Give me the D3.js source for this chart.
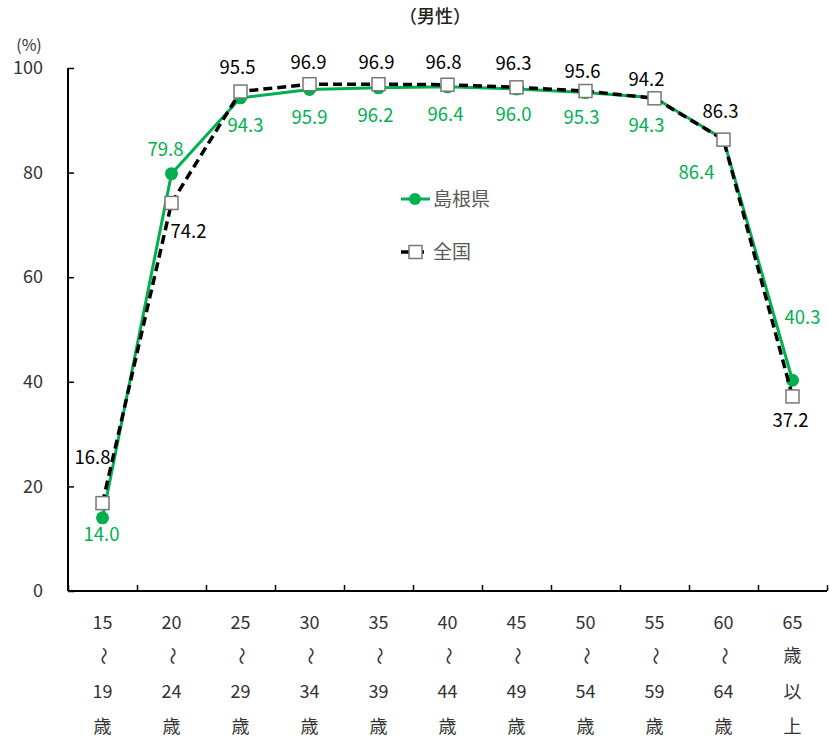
<!DOCTYPE html>
<html>
<head>
<meta charset="utf-8">
<script src="https://cdn.jsdelivr.net/npm/d3@7"></script>
<style>
    body { margin: 0; background: #fff; }
    text { font-family: "Noto Sans CJK JP", "Noto Sans", sans-serif; }
</style>
</head>
<body>
<svg></svg>
<script>
// data
const categories = ["15〜19歳", "20〜24歳", "25〜29歳", "30〜34歳", "35〜39歳", "40〜44歳",
    "45〜49歳", "50〜54歳", "55〜59歳", "60〜64歳", "65歳以上"];
const categoryLines = [
    ["15", "〜", "19", "歳"], ["20", "〜", "24", "歳"], ["25", "〜", "29", "歳"],
    ["30", "〜", "34", "歳"], ["35", "〜", "39", "歳"], ["40", "〜", "44", "歳"],
    ["45", "〜", "49", "歳"], ["50", "〜", "54", "歳"], ["55", "〜", "59", "歳"],
    ["60", "〜", "64", "歳"], ["65", "歳", "以", "上"]
];
const shimane = [14.0, 79.8, 94.3, 95.9, 96.2, 96.4, 96.0, 95.3, 94.3, 86.4, 40.3];
const national = [16.8, 74.2, 95.5, 96.9, 96.9, 96.8, 96.3, 95.6, 94.2, 86.3, 37.2];
const yTicks = [0, 20, 40, 60, 80, 100];

// label nudges (dx, dy from the point)
const shimaneLabelPos = [[-1, 17], [-6, -24], [5, 28], [0, 28], [-3, 28], [-2, 28],
    [-3, 26], [-4, 25], [-8, 28], [-27, 33], [10, -63]];
const nationalLabelPos = [[-10, -46], [17, 29], [-3, -24], [-1, -22], [-2, -22], [-4, -22],
    [-3, -24], [-3, -19], [-8, -19], [-3, -28], [-2, 24]];

const svgWidth = 830;
const svgHeight = 740;
const plotLeft = 68, plotRight = 827, plotTop = 68, plotBottom = 591;
const green = "#00B050";

const svg = d3.select("svg").attr("width", svgWidth).attr("height", svgHeight);

const x = d3.scaleBand().domain(categories).range([plotLeft, plotRight]);
const xEdges = d3.scaleLinear().domain([0, categories.length]).range([plotLeft, plotRight]);
const y = d3.scaleLinear().domain([0, 100]).range([plotBottom, plotTop]);
const cx = (i) => x(categories[i]) + x.bandwidth() / 2;

// title
svg.append("text")
    .attr("x", 435).attr("y", 17)
    .attr("dy", "0.35em")
    .attr("text-anchor", "middle")
    .attr("font-size", 18)
    .attr("font-weight", 500)
    .attr("fill", "#222")
    .text("（男性）");

svg.append("text")
    .attr("x", 29).attr("y", 45)
    .attr("dy", "0.35em")
    .attr("text-anchor", "middle")
    .attr("font-size", 16)
    .attr("font-family", "'Noto Sans', sans-serif")
    .attr("fill", "#333")
    .text("(%)");

// axes
const yAxis = d3.axisLeft(y).tickValues(yTicks).tickSize(-6).tickPadding(25);
const gy = svg.append("g").attr("transform", `translate(${plotLeft},0)`).call(yAxis);
gy.select(".domain").attr("stroke", "#000").attr("stroke-width", 2).attr("d", `M0,${plotTop}V${plotBottom}`);
gy.selectAll(".tick line").attr("stroke", "#000").attr("stroke-width", 1.5);
gy.selectAll(".tick text")
    .attr("font-size", 18)
    .attr("fill", "#333")
    .attr("font-family", "'Noto Sans', sans-serif");

const xAxis = d3.axisBottom(xEdges).tickValues(d3.range(0, categories.length + 1)).tickSize(-6).tickFormat("");
const gx = svg.append("g").attr("transform", `translate(0,${plotBottom})`).call(xAxis);
gx.select(".domain").attr("stroke", "#000").attr("stroke-width", 2).attr("d", `M${plotLeft},0H${plotRight}`);
gx.selectAll(".tick line").attr("stroke", "#000").attr("stroke-width", 1.5);

// x labels, one char group per line
const lineY = [623, 656, 692, 727];
categoryLines.forEach((lines, i) => {
    lines.forEach((s, j) => {
        const t = svg.append("text")
            .attr("x", cx(i)).attr("y", lineY[j])
            .attr("dy", "0.35em")
            .attr("text-anchor", "middle")
            .attr("font-size", 18)
            .attr("fill", "#333")
            .text(s);
        if (s === "〜") {
            t.attr("transform", `rotate(90,${cx(i)},${lineY[j]})`).attr("dy", "0.3em");
        }
    });
});

// lines
const line = d3.line().x((d, i) => cx(i)).y(d => y(d));

svg.append("path")
    .datum(shimane)
    .attr("d", line)
    .attr("fill", "none")
    .attr("stroke", green)
    .attr("stroke-width", 3);

svg.selectAll(".dot")
    .data(shimane)
    .enter()
    .append("circle")
    .attr("class", "dot")
    .attr("cx", (d, i) => cx(i))
    .attr("cy", d => y(d))
    .attr("r", 6.5)
    .attr("fill", green);

svg.append("path")
    .datum(national)
    .attr("d", line)
    .attr("fill", "none")
    .attr("stroke", "#000")
    .attr("stroke-width", 3.5)
    .attr("stroke-dasharray", "9,5");

svg.selectAll(".sq")
    .data(national)
    .enter()
    .append("rect")
    .attr("class", "sq")
    .attr("x", (d, i) => cx(i) - 6.5)
    .attr("y", d => y(d) - 6.5)
    .attr("width", 13)
    .attr("height", 13)
    .attr("fill", "#fff")
    .attr("stroke", "#777")
    .attr("stroke-width", 1.5);

// data labels
svg.selectAll(".lab-s")
    .data(shimane)
    .enter()
    .append("text")
    .attr("class", "lab-s")
    .attr("x", (d, i) => cx(i) + shimaneLabelPos[i][0])
    .attr("y", (d, i) => y(d) + shimaneLabelPos[i][1])
    .attr("dy", "0.35em")
    .attr("text-anchor", "middle")
    .attr("font-size", 18.5)
    .attr("fill", green)
    .text(d => d.toFixed(1));

svg.selectAll(".lab-n")
    .data(national)
    .enter()
    .append("text")
    .attr("class", "lab-n")
    .attr("x", (d, i) => cx(i) + nationalLabelPos[i][0])
    .attr("y", (d, i) => y(d) + nationalLabelPos[i][1])
    .attr("dy", "0.35em")
    .attr("text-anchor", "middle")
    .attr("font-size", 18.5)
    .attr("fill", "#000")
    .text(d => d.toFixed(1));

// legend
const lg = svg.append("g");
lg.append("line").attr("x1", 401).attr("x2", 430).attr("y1", 199).attr("y2", 199)
    .attr("stroke", green).attr("stroke-width", 3);
lg.append("circle").attr("cx", 415).attr("cy", 199).attr("r", 6).attr("fill", green);
lg.append("text").attr("x", 433).attr("y", 199).attr("dy", "0.35em")
    .attr("font-size", 19).attr("fill", "#595959").text("島根県");

lg.append("line").attr("x1", 401).attr("x2", 425).attr("y1", 252).attr("y2", 252)
    .attr("stroke", "#000").attr("stroke-width", 3.5).attr("stroke-dasharray", "9,5");
lg.append("rect").attr("x", 409).attr("y", 245.5).attr("width", 13).attr("height", 13)
    .attr("fill", "#fff").attr("stroke", "#777").attr("stroke-width", 1.5);
lg.append("text").attr("x", 433).attr("y", 252).attr("dy", "0.35em")
    .attr("font-size", 19).attr("fill", "#595959").text("全国");
</script>
</body>
</html>
